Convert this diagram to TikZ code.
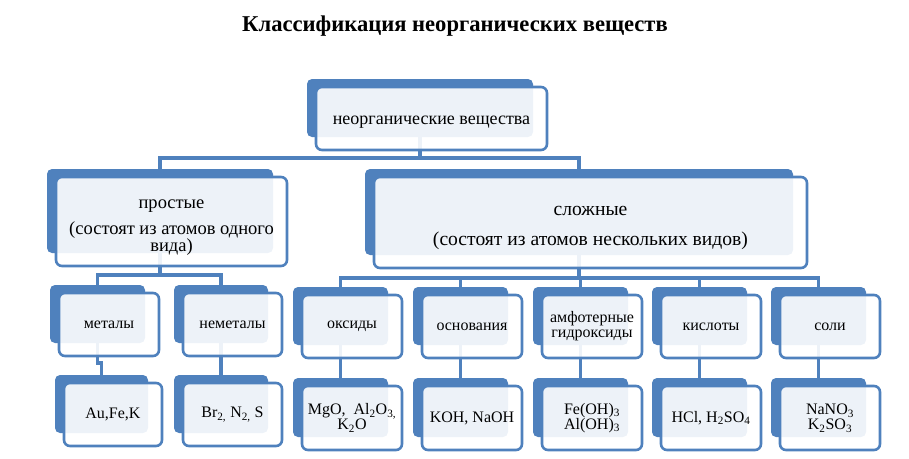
\documentclass[tikz,border=0pt]{standalone}
\usepackage{fontspec}
\setmainfont{Liberation Serif}
\definecolor{sblue}{HTML}{4F81BD}
\pgfdeclarelayer{conn}
\pgfsetlayers{conn,main}
\tikzset{
  x=1pt, y=-1pt,
  backbox/.style={fill=sblue, draw=none, rounded corners=5pt, inner sep=0pt, outer sep=0pt},
  frontbox/.style={draw=sblue, line width=2.6pt, fill=white, fill opacity=0.9, text opacity=1,
    rounded corners=6pt, inner sep=0pt, outer sep=0pt, align=center,
    font=\fontsize{16}{15}\selectfont},
  bigtxt/.style={font=\fontsize{18.5}{17}\selectfont},
  hugetxt/.style={font=\fontsize{19.6}{18}\selectfont},
  roottxt/.style={font=\fontsize{18}{18}\selectfont},
  link/.style={draw=sblue, line width=3.2pt},
  titletxt/.style={font=\bfseries\fontsize{22.6}{26}\selectfont, inner sep=0pt},
}
% #1 extra style, #2 name, #3 left, #4 top, #5 width, #6 height, #7 text
\newcommand\elem[7]{%
  \node[backbox, minimum width=#5pt, minimum height=#6pt] (#2B) at ({#3+#5/2},{#4+#6/2}) {};
  \node[frontbox, minimum width=#5pt+5pt, minimum height=#6pt+5pt, #1] (#2F)
    at ({#3+9+(#5+5)/2},{#4+8+(#6+5)/2}) {#7};
}
\begin{document}
\begin{tikzpicture}
\useasboundingbox (0,0) rectangle (909,458);

\node[titletxt, anchor=base] (title) at (455,31) {Классификация неорганических веществ};

\elem{roottxt}{root}{307}{79}{226}{58}{\rule{0pt}{16pt}неорганические вещества}
\elem{bigtxt}{prost}{47}{169}{226}{84}{\rule{0pt}{20pt}простые\\[9pt](состоят из атомов одного\\вида)}
\elem{hugetxt}{slozh}{365}{169}{428}{86}{\rule{0pt}{20pt}сложные\\[12pt](состоят из атомов нескольких видов)}

\elem{}{met}{50}{285}{95}{58}{металы}
\elem{}{nonmet}{174}{285}{94}{58}{неметалы}
\elem{}{metex}{55}{375}{93}{58}{Au,Fe,K}
\elem{}{nonmetex}{174}{375}{94}{58}{Br\textsubscript{2,} N\textsubscript{2,} S}

\elem{}{oks}{293}{287}{95}{58}{оксиды}
\elem{}{osn}{413}{287}{95}{58}{основания}
\elem{}{amf}{533}{287}{95}{58}{амфотерные\\гидроксиды}
\elem{}{kis}{652}{287}{95}{58}{кислоты}
\elem{}{sol}{771}{287}{95}{58}{соли}

\elem{}{oksex}{293}{378}{95}{59}{MgO,\ \ Al\textsubscript{2}O\textsubscript{3,}\\K\textsubscript{2}O}
\elem{}{osnex}{413}{378}{95}{59}{KOH, NaOH}
\elem{}{amfex}{533}{378}{95}{59}{Fe(OH)\textsubscript{3}\\Al(OH)\textsubscript{3}}
\elem{}{kisex}{652}{378}{95}{59}{HCl, H\textsubscript{2}SO\textsubscript{4}}
\elem{}{solex}{771}{378}{95}{59}{NaNO\textsubscript{3}\\K\textsubscript{2}SO\textsubscript{3}}

\coordinate (bus1) at (0,158);
\coordinate (bus2) at (0,275);
\coordinate (bus3) at (0,278);
\coordinate (bus4) at (0,363);
\coordinate (bus5) at (0,366);

\begin{pgfonlayer}{conn}
  \foreach \c in {prost,slozh}
    \draw[link] (rootB.south) -- (rootB.south |- bus1) -| (\c B.north);
  \foreach \c in {met,nonmet}
    \draw[link] (prostB.south) -- (prostB.south |- bus2) -| (\c B.north);
  \foreach \c in {oks,osn,amf,kis,sol}
    \draw[link] (slozhB.south) -- (slozhB.south |- bus3) -| (\c B.north);
  \foreach \c in {met,nonmet}
    \draw[link] (\c B.south) -- (\c B.south |- bus4) -| (\c exB.north);
  \foreach \c in {oks,osn,amf,kis,sol}
    \draw[link] (\c B.south) -- (\c B.south |- bus5) -| (\c exB.north);
\end{pgfonlayer}
\end{tikzpicture}
\end{document}
